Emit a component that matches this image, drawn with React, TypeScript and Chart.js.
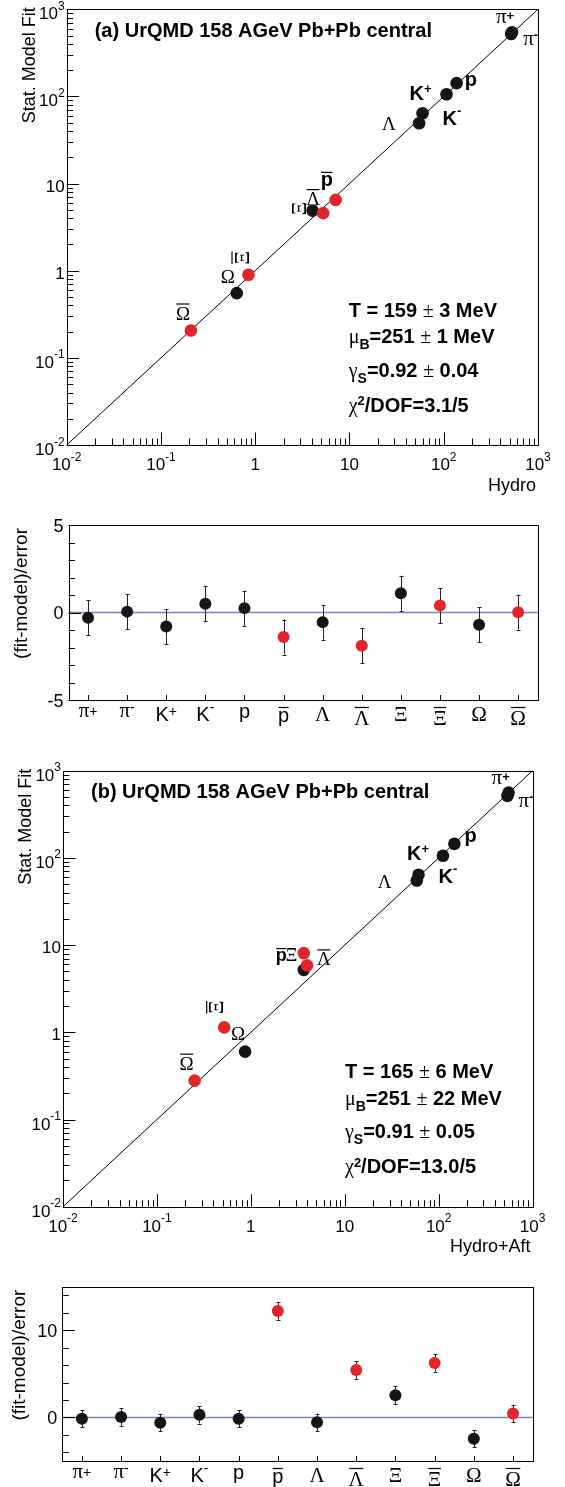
import React, { useEffect, useRef } from 'react';
import { Chart, registerables } from 'chart.js';

Chart.register(...registerables);

const SANS = '"Liberation Sans", Arial, Helvetica, sans-serif';
const SERIF = '"Liberation Serif", "Times New Roman", serif';
const GREEK_CHARS = 'πΛΞΩμγχ±';
const RED = '#e2242b';
const BLACK = '#151515';
const ZERO_LINE = '#7b80c2';

// ---------------- data ----------------
const particles = ['π+', 'π-', 'K+', 'K-', 'p', 'anti-p', 'Λ', 'anti-Λ', 'Ξ', 'anti-Ξ', 'Ω', 'anti-Ω'];
const particleText = ['π^{+}', 'π^{-}', 'K^{+}', 'K^{-}', 'p', 'p', 'Λ', 'Λ', 'Ξ', 'Ξ', 'Ω', 'Ω'];
const antiParticle = [false, false, false, false, false, true, false, true, false, true, false, true];

// panel (a): Hydro yields vs statistical model fit
const hydroA = [530, 520, 107, 59.6, 137, 7.13, 54.8, 5.26, 4.06, 0.849, 0.637, 0.208];
const fitA = [545, 520, 106, 64, 142, 6.5, 49.3, 4.58, 4.9, 0.9, 0.553, 0.206];
const residA = [-0.3, 0.05, -0.8, 0.5, 0.25, -1.4, -0.55, -1.9, 1.1, 0.4, -0.7, 0.02];
const errA = [1.0, 1.0, 1.0, 1.0, 1.0, 1.0, 1.0, 1.0, 1.0, 1.0, 1.0, 1.0];

// panel (b): Hydro+Aft yields vs statistical model fit
const hydroB = [555, 540, 111, 61, 147, 3.66, 58.5, 3.96, 3.66, 0.52, 0.869, 0.252];
const fitB = [560, 515, 106, 64, 145, 8.1, 55, 5.85, 5.2, 1.14, 0.6, 0.279];
const residB = [-0.15, 0.05, -0.6, 0.3, -0.15, 12.2, -0.55, 5.45, 2.55, 6.25, -2.45, 0.45];
const errB = [1.0, 1.0, 1.0, 1.0, 1.0, 1.0, 1.0, 1.0, 1.0, 1.0, 1.0, 1.0];

const logRange = [0.01, 1000];
const logTickValues = [0.01, 0.1, 1, 10, 100, 1000];
const logTickLabels = ['10^{-2}', '10^{-1}', '1', '10', '10^{2}', '10^{3}'];

const residRangeA = [-5, 5];
const residTicksA = [-5, 0, 5];
const residTickLabelsA = ['-5', '0', '5'];
const residRangeB = [-5, 15];
const residTicksB = [0, 10];
const residTickLabelsB = ['0', '10'];

const titleA = '(a) UrQMD 158 AGeV Pb+Pb central';
const titleB = '(b) UrQMD 158 AGeV Pb+Pb central';
const fitTextA = ['T = 159 ± 3 MeV', 'μ_{B}=251 ± 1 MeV', 'γ_{S}=0.92 ± 0.04', 'χ^{2}/DOF=3.1/5'];
const fitTextB = ['T = 165 ± 6 MeV', 'μ_{B}=251 ± 22 MeV', 'γ_{S}=0.91 ± 0.05', 'χ^{2}/DOF=13.0/5'];
const xTitleA = 'Hydro';
const xTitleB = 'Hydro+Aft';
const yTitleMain = 'Stat. Model Fit';
const yTitleResid = '(fit-model)/error';

// ---------------- label layout (pixel offsets from the point) ----------------
type LabelSpec = { idx: number; text: string; dx: number; dy: number; bar?: boolean; rot?: boolean; bold?: boolean; size?: number };

const mainLabelsA: LabelSpec[] = [
  { idx: 0, text: 'π^{+}', dx: -16, dy: -9, size: 21 },
  { idx: 1, text: 'π^{-}', dx: 12, dy: 11, size: 21 },
  { idx: 4, text: 'p', dx: 8, dy: 3, bold: true },
  { idx: 2, text: 'K^{+}', dx: -37, dy: 6, bold: true },
  { idx: 3, text: 'K^{-}', dx: 20, dy: 12, bold: true },
  { idx: 6, text: 'Λ', dx: -37, dy: 7 },
  { idx: 8, text: 'Ξ', dx: -14, dy: -2, rot: true, size: 21 },
  { idx: 7, text: 'Λ', dx: -17, dy: -8, bar: true },
  { idx: 5, text: 'p', dx: -15, dy: -14, bar: true, bold: true },
  { idx: 9, text: 'Ξ', dx: -7, dy: -17, bar: true, rot: true, size: 21 },
  { idx: 10, text: 'Ω', dx: -16, dy: -10 },
  { idx: 11, text: 'Ω', dx: -15, dy: -11, bar: true },
];

const mainLabelsB: LabelSpec[] = [
  { idx: 0, text: 'π^{+}', dx: -17, dy: -9, size: 21 },
  { idx: 1, text: 'π^{-}', dx: 11, dy: 11, size: 21 },
  { idx: 4, text: 'p', dx: 10, dy: -1.5, bold: true },
  { idx: 2, text: 'K^{+}', dx: -36, dy: 4, bold: true },
  { idx: 3, text: 'K^{-}', dx: 20, dy: 8, bold: true },
  { idx: 6, text: 'Λ', dx: -39, dy: 7 },
  { idx: 5, text: 'p', dx: -28, dy: 8, bar: true, bold: true, size: 18 },
  { idx: 8, text: 'Ξ', dx: -18, dy: -9, size: 18 },
  { idx: 7, text: 'Λ', dx: 10, dy: 0, bar: true },
  { idx: 9, text: 'Ξ', dx: -8, dy: -20, bar: true, rot: true, size: 21 },
  { idx: 10, text: 'Ω', dx: -14, dy: -12 },
  { idx: 11, text: 'Ω', dx: -15, dy: -11, bar: true },
];

// ---------------- rich text helpers ----------------
type Seg = { t: string; font: string; kind: number; dy: number; w: number };
interface RichOpts {
  size: number; bold?: boolean; greekSize?: number; supSize?: number; subSize?: number;
  supRaise?: number; subDrop?: number; supRef?: 'prev' | 'cap'; scriptBold?: boolean;
}
type Rich = { segs: Seg[]; width: number; firstAsc: number; firstW: number };

function fontFor(ch: string, kind: number, o: RichOpts): string {
  const greek = GREEK_CHARS.includes(ch);
  const size = kind === 0
    ? (greek ? (o.greekSize ?? o.size) : o.size)
    : kind === 1 ? (o.supSize ?? Math.round(o.size * 0.68)) : (o.subSize ?? Math.round(o.size * 0.68));
  const bold = greek ? false : kind === 0 ? !!o.bold : (o.scriptBold ?? !!o.bold);
  return `${bold ? 'bold ' : ''}${size}px ${greek ? SERIF : SANS}`;
}

function layoutRich(ctx: CanvasRenderingContext2D, markup: string, o: RichOpts): Rich {
  const raw: { t: string; font: string; kind: number }[] = [];
  const push = (ch: string, kind: number) => {
    const font = fontFor(ch, kind, o);
    const last = raw[raw.length - 1];
    if (last && last.font === font && last.kind === kind) last.t += ch;
    else raw.push({ t: ch, font, kind });
  };
  for (let i = 0; i < markup.length;) {
    const c = markup[i];
    if ((c === '^' || c === '_') && markup[i + 1] === '{') {
      const end = markup.indexOf('}', i);
      for (const ch of markup.slice(i + 2, end)) push(ch, c === '^' ? 1 : -1);
      i = end + 1;
    } else { push(c, 0); i++; }
  }
  let prevAsc = 0.716 * o.size;
  let width = 0;
  const segs: Seg[] = [];
  for (const r of raw) {
    ctx.font = r.font;
    const m = ctx.measureText(r.t);
    let dy = 0;
    if (r.kind === 0) {
      if (r.t.trim()) prevAsc = m.actualBoundingBoxAscent;
    } else if (r.kind === 1) {
      const ref = o.supRef === 'cap' ? 0.716 * o.size : prevAsc;
      dy = -(ref + (o.supRaise ?? 1) - m.actualBoundingBoxAscent);
    } else {
      dy = o.subDrop ?? 0.3 * o.size;
    }
    segs.push({ ...r, dy, w: m.width });
    width += m.width;
  }
  ctx.font = segs[0].font;
  const fm = ctx.measureText(segs[0].t);
  return { segs, width, firstAsc: fm.actualBoundingBoxAscent, firstW: fm.width };
}

function drawRich(ctx: CanvasRenderingContext2D, r: Rich, x: number, y: number) {
  ctx.textAlign = 'left';
  ctx.textBaseline = 'alphabetic';
  let cx = x;
  for (const s of r.segs) {
    ctx.font = s.font;
    ctx.fillText(s.t, cx, y + s.dy);
    cx += s.w;
  }
}

function drawBar(ctx: CanvasRenderingContext2D, x0: number, y: number, w: number) {
  ctx.beginPath();
  ctx.lineWidth = 1.2;
  ctx.moveTo(x0 + 0.5, y);
  ctx.lineTo(x0 + w - 0.5, y);
  ctx.stroke();
}

// ---------------- panels ----------------
type MainPanel = {
  key: string; top: number; height: number;
  pad: { left: number; top: number; right: number; bottom: number };
  hydro: number[]; fit: number[]; title: string; fitText: string[]; xTitle: string; labels: LabelSpec[];
};
type ResidPanel = {
  key: string; top: number; height: number;
  pad: { left: number; top: number; right: number; bottom: number };
  resid: number[]; err: number[]; range: number[]; ticks: number[]; tickLabels: string[];
  tickStart: number; tickStep: number; titleX: number;
};

const panelA: MainPanel = {
  key: 'A', top: 0, height: 500, pad: { left: 66.7, top: 9.3, right: 27, bottom: 55 },
  hydro: hydroA, fit: fitA, title: titleA, fitText: fitTextA, xTitle: xTitleA, labels: mainLabelsA,
};
const panelRA: ResidPanel = {
  key: 'RA', top: 500, height: 240, pad: { left: 68.5, top: 25, right: 27.3, bottom: 40 },
  resid: residA, err: errA, range: residRangeA, ticks: residTicksA, tickLabels: residTickLabelsA,
  tickStart: -5, tickStep: 1, titleX: 26.5,
};
const panelB: MainPanel = {
  key: 'B', top: 740, height: 522, pad: { left: 63, top: 30.7, right: 32.4, bottom: 55.3 },
  hydro: hydroB, fit: fitB, title: titleB, fitText: fitTextB, xTitle: xTitleB, labels: mainLabelsB,
};
const panelRB: ResidPanel = {
  key: 'RB', top: 1262, height: 225, pad: { left: 62.3, top: 24.7, right: 32.4, bottom: 26 },
  resid: residB, err: errB, range: residRangeB, ticks: residTicksB, tickLabels: residTickLabelsB,
  tickStart: -4, tickStep: 2, titleX: 24.5,
};

function frame(ctx: CanvasRenderingContext2D, a: any) {
  ctx.lineWidth = 1;
  ctx.strokeStyle = '#000';
  const l = Math.round(a.left) + 0.5, t = Math.round(a.top) + 0.5;
  ctx.strokeRect(l, t, Math.round(a.right) - Math.round(a.left), Math.round(a.bottom) - Math.round(a.top));
}

function drawYTitle(ctx: CanvasRenderingContext2D, text: string, x: number, yEnd: number, size: number) {
  ctx.save();
  ctx.translate(x, yEnd);
  ctx.rotate(-Math.PI / 2);
  ctx.font = `${size}px ${SANS}`;
  ctx.textAlign = 'right';
  ctx.textBaseline = 'alphabetic';
  ctx.fillText(text, 0, 0);
  ctx.restore();
}

function makeMain(canvas: HTMLCanvasElement, p: MainPanel): Chart {
  const idx = p.hydro.map((_, i) => i);
  const overlay = {
    id: 'overlay' + p.key,
    afterDraw(chart: any) {
      const ctx: CanvasRenderingContext2D = chart.ctx;
      const a = chart.chartArea;
      const xs = chart.scales.x, ys = chart.scales.y;
      ctx.save();
      ctx.fillStyle = '#000';
      ctx.strokeStyle = '#000';
      frame(ctx, a);
      // log ticks, pointing inwards
      ctx.beginPath();
      ctx.lineWidth = 1;
      for (let e = -2; e <= 3; e++) {
        for (let m = 1; m <= 9; m++) {
          const v = m * Math.pow(10, e);
          if (v > logRange[1] * 1.0001) break;
          const len = m === 1 ? 12.5 : 6.5;
          const X = Math.round(xs.getPixelForValue(v)) + 0.5;
          ctx.moveTo(X, a.bottom);
          ctx.lineTo(X, a.bottom - len);
          const Y = Math.round(ys.getPixelForValue(v)) + 0.5;
          ctx.moveTo(a.left, Y);
          ctx.lineTo(a.left + len, Y);
        }
      }
      ctx.stroke();
      // tick labels
      const tickOpts: RichOpts = { size: 17, supSize: 12, supRaise: 6.5 };
      logTickValues.forEach((v, i) => {
        const r = layoutRich(ctx, logTickLabels[i], tickOpts);
        const hasSup = logTickLabels[i].includes('^');
        const X = xs.getPixelForValue(v);
        drawRich(ctx, r, X - r.width / 2, a.bottom + 25);
        const Y = ys.getPixelForValue(v);
        drawRich(ctx, r, a.left - 2 - r.width, Y + (hasSup ? 10 : 8));
      });
      // axis titles
      ctx.font = `18px ${SANS}`;
      ctx.textAlign = 'right';
      ctx.fillText(p.xTitle, a.right - 2, a.bottom + 45.5);
      drawYTitle(ctx, yTitleMain, a.left - 32, a.top - 2, 18);
      // panel title
      ctx.font = `bold 20px ${SANS}`;
      ctx.textAlign = 'left';
      ctx.fillText(p.title, a.left + 28, a.top + 27.4);
      // fit results
      const fitBase = [307.4, 334, 367.4, 402.4];
      p.fitText.forEach((t, i) => {
        const r = layoutRich(ctx, t, { size: 20, bold: true, subSize: 14, supSize: 13, subDrop: 6, supRef: 'cap', supRaise: 1 });
        drawRich(ctx, r, a.left + 282, a.top + fitBase[i]);
      });
      // particle labels
      for (const s of p.labels) {
        const px = xs.getPixelForValue(p.hydro[s.idx]);
        const py = ys.getPixelForValue(p.fit[s.idx]);
        const greek = GREEK_CHARS.includes(s.text[0]);
        const size = s.size ?? (greek ? 19 : 20);
        const r = layoutRich(ctx, s.text, { size, bold: !!s.bold, supSize: 13, supRaise: 1, scriptBold: true });
        if (s.rot) {
          ctx.save();
          ctx.translate(px + s.dx, py + s.dy);
          ctx.rotate(-Math.PI / 2);
          const x0 = -r.width / 2, base = r.firstAsc / 2;
          drawRich(ctx, r, x0, base);
          if (s.bar) drawBar(ctx, x0, base - r.firstAsc - 2.5, r.firstW);
          ctx.restore();
        } else {
          const x0 = px + s.dx, base = py + s.dy;
          drawRich(ctx, r, x0, base);
          if (s.bar) drawBar(ctx, x0, base - r.firstAsc - 2.5, r.firstW);
        }
      }
      ctx.restore();
    },
  };
  return new Chart(canvas, {
    type: 'scatter',
    data: {
      datasets: [
        {
          label: 'antiparticles',
          data: idx.filter((i) => antiParticle[i]).map((i) => ({ x: p.hydro[i], y: p.fit[i] })),
          backgroundColor: RED, borderColor: RED, pointRadius: 6.3, pointBorderWidth: 0, pointHoverRadius: 6.3,
        },
        {
          label: 'particles',
          data: idx.filter((i) => !antiParticle[i]).map((i) => ({ x: p.hydro[i], y: p.fit[i] })),
          backgroundColor: BLACK, borderColor: BLACK, pointRadius: 6.3, pointBorderWidth: 0, pointHoverRadius: 6.3,
        },
        {
          label: 'y=x',
          data: [{ x: logRange[0], y: logRange[0] }, { x: logRange[1], y: logRange[1] }],
          showLine: true, borderColor: '#000', borderWidth: 1, pointRadius: 0, fill: false,
        },
      ],
    } as any,
    options: {
      responsive: false, animation: false, devicePixelRatio: 1, events: [],
      layout: { padding: p.pad },
      plugins: { legend: { display: false }, tooltip: { enabled: false } },
      scales: {
        x: { type: 'logarithmic', min: logRange[0], max: logRange[1], display: false },
        y: { type: 'logarithmic', min: logRange[0], max: logRange[1], display: false },
      },
    } as any,
    plugins: [overlay],
  });
}

function makeResid(canvas: HTMLCanvasElement, p: ResidPanel): Chart {
  const idx = p.resid.map((_, i) => i);
  const overlay = {
    id: 'overlay' + p.key,
    beforeDatasetsDraw(chart: any) {
      const ctx: CanvasRenderingContext2D = chart.ctx;
      const a = chart.chartArea;
      const xs = chart.scales.x, ys = chart.scales.y;
      ctx.save();
      const y0 = ys.getPixelForValue(0);
      ctx.strokeStyle = ZERO_LINE;
      ctx.lineWidth = 1.6;
      ctx.beginPath();
      ctx.moveTo(a.left, y0);
      ctx.lineTo(a.right, y0);
      ctx.stroke();
      ctx.strokeStyle = '#222';
      ctx.lineWidth = 1;
      ctx.beginPath();
      idx.forEach((i) => {
        const X = Math.round(xs.getPixelForValue(i)) + 0.5;
        const yt = ys.getPixelForValue(p.resid[i] + p.err[i]);
        const yb = ys.getPixelForValue(p.resid[i] - p.err[i]);
        ctx.moveTo(X, yt); ctx.lineTo(X, yb);
        ctx.moveTo(X - 2, Math.round(yt) + 0.5); ctx.lineTo(X + 2, Math.round(yt) + 0.5);
        ctx.moveTo(X - 2, Math.round(yb) + 0.5); ctx.lineTo(X + 2, Math.round(yb) + 0.5);
      });
      ctx.stroke();
      ctx.restore();
    },
    afterDraw(chart: any) {
      const ctx: CanvasRenderingContext2D = chart.ctx;
      const a = chart.chartArea;
      const xs = chart.scales.x, ys = chart.scales.y;
      ctx.save();
      ctx.fillStyle = '#000';
      frame(ctx, a);
      ctx.beginPath();
      ctx.lineWidth = 1;
      for (let v = p.tickStart; v <= p.range[1] + 1e-6; v += p.tickStep) {
        const len = p.ticks.includes(v) ? 12.5 : 6.5;
        const Y = Math.round(ys.getPixelForValue(v)) + 0.5;
        ctx.moveTo(a.left, Y); ctx.lineTo(a.left + len, Y);
      }
      idx.forEach((i) => {
        const X = Math.round(xs.getPixelForValue(i)) + 0.5;
        ctx.moveTo(X, a.bottom); ctx.lineTo(X, a.bottom - 5);
      });
      ctx.stroke();
      ctx.font = `18px ${SANS}`;
      ctx.textAlign = 'right';
      ctx.textBaseline = 'alphabetic';
      p.ticks.forEach((v, i) => {
        ctx.fillText(p.tickLabels[i], a.left - 5, ys.getPixelForValue(v) + 6.5);
      });
      // category labels
      idx.forEach((i) => {
        const r = layoutRich(ctx, particleText[i], { size: 20, greekSize: 21, supSize: 14, supRaise: 0 });
        const X = xs.getPixelForValue(i);
        const x0 = X - r.width / 2;
        const bar = antiParticle[i];
        const top = a.bottom + (bar ? 10.5 : 6.5);
        const base = top + r.firstAsc;
        drawRich(ctx, r, x0, base);
        if (bar) drawBar(ctx, x0, a.bottom + 7.5, r.firstW);
      });
      drawYTitle(ctx, yTitleResid, p.titleX, a.top + 3, 19);
      ctx.restore();
    },
  };
  return new Chart(canvas, {
    type: 'scatter',
    data: {
      datasets: [
        {
          label: 'antiparticles',
          data: idx.filter((i) => antiParticle[i]).map((i) => ({ x: i, y: p.resid[i] })),
          backgroundColor: RED, borderColor: RED, pointRadius: 6, pointBorderWidth: 0, pointHoverRadius: 6,
        },
        {
          label: 'particles',
          data: idx.filter((i) => !antiParticle[i]).map((i) => ({ x: i, y: p.resid[i] })),
          backgroundColor: BLACK, borderColor: BLACK, pointRadius: 6, pointBorderWidth: 0, pointHoverRadius: 6,
        },
      ],
    } as any,
    options: {
      responsive: false, animation: false, devicePixelRatio: 1, events: [],
      layout: { padding: p.pad },
      plugins: { legend: { display: false }, tooltip: { enabled: false } },
      scales: {
        x: { type: 'linear', min: -0.5, max: particles.length - 0.5, display: false },
        y: { type: 'linear', min: p.range[0], max: p.range[1], display: false },
      },
    } as any,
    plugins: [overlay],
  });
}

const layoutPanels = [panelA, panelRA, panelB, panelRB];

export default function App() {
  const r0 = useRef<HTMLCanvasElement>(null);
  const r1 = useRef<HTMLCanvasElement>(null);
  const r2 = useRef<HTMLCanvasElement>(null);
  const r3 = useRef<HTMLCanvasElement>(null);
  const refs = [r0, r1, r2, r3];

  useEffect(() => {
    const charts = [
      makeMain(r0.current!, panelA),
      makeResid(r1.current!, panelRA),
      makeMain(r2.current!, panelB),
      makeResid(r3.current!, panelRB),
    ];
    return () => charts.forEach((c) => c.destroy());
  }, []);

  return (
    <div style={{ position: 'absolute', left: 0, top: 0, width: 565, height: 1487, background: '#fff', overflow: 'hidden' }}>
      {layoutPanels.map((p, i) => (
        <canvas
          key={p.key}
          ref={refs[i]}
          width={565}
          height={p.height}
          style={{ position: 'absolute', left: 0, top: p.top, width: 565, height: p.height }}
        />
      ))}
    </div>
  );
}
